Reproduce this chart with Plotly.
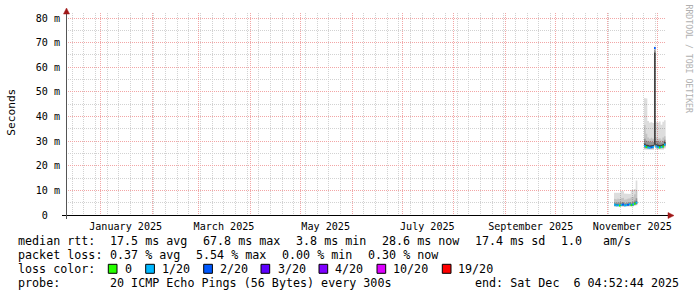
import plotly.graph_objects as go
from datetime import datetime, timedelta

# ---------------- data ----------------
first_day = datetime(2025, 11, 5)
n_days = 31
graph_start = datetime(2024, 12, 11, 4, 52, 44)
graph_end = datetime(2025, 12, 6, 4, 52, 44)

median_ms = [4.2, 3.9, 4.0, 3.8, 4.1, 4.3, 3.9, 4.0, 4.2, 4.4, 4.0, 4.3, 4.6, 5.0,
             None, None, None, None,
             28.0, 27.6, 27.4, 27.3, 27.5, 27.6, 67.8, 27.9, 27.5, 27.4, 27.6, 27.8, 28.6]
loss_pct = [0.3, 0.4, 0.2, 0.0, 0.3, 5.2, 0.4, 0.3, 5.3, 0.2, 0.0, 0.3, 0.0, 0.4,
            None, None, None, None,
            0.4, 0.0, 0.3, 0.3, 5.1, 0.2, 5.54, 0.3, 0.4, 0.0, 0.3, 0.0, 0.3]

# smoke bands (sorted ping pairs, outer -> inner), ms
smoke1_lo = [3.4, 3.3, 3.4, 3.3, 3.4, 3.5, 3.3, 3.4, 3.5, 3.6, 3.4, 3.5, 3.7, 4.0,
             None, None, None, None,
             26.5, 26.4, 26.3, 26.2, 26.4, 26.4, 27.6, 26.6, 26.4, 26.3, 26.4, 26.5, 27.0]
smoke1_hi = [9.0, 9.1, 9.3, 9.0, 9.8, 9.6, 8.7, 8.8, 8.6, 8.5, 10.2, 10.3, 10.6, 14.0,
             None, None, None, None,
             47.5, 47.3, 38.2, 37.5, 37.8, 37.4, 68.4, 37.8, 37.6, 38.0, 36.6, 37.9, 38.5]
smoke2_lo = [3.6, 3.5, 3.6, 3.5, 3.6, 3.7, 3.5, 3.6, 3.7, 3.8, 3.6, 3.7, 3.9, 4.2,
             None, None, None, None,
             26.9, 26.8, 26.7, 26.6, 26.8, 26.8, 28.0, 27.0, 26.8, 26.7, 26.8, 26.9, 27.4]
smoke2_hi = [6.6, 6.3, 6.7, 6.4, 6.8, 7.0, 6.2, 6.4, 6.6, 6.8, 7.2, 7.4, 8.4, 10.0,
             None, None, None, None,
             36.5, 33.0, 31.5, 31.0, 31.4, 31.0, 67.6, 31.5, 31.0, 31.2, 30.6, 31.5, 32.0]
smoke3_lo = [3.8, 3.6, 3.7, 3.6, 3.8, 3.9, 3.6, 3.8, 3.9, 4.0, 3.7, 3.9, 4.1, 4.4,
             None, None, None, None,
             27.3, 27.1, 27.0, 26.9, 27.1, 27.1, 28.2, 27.4, 27.1, 27.0, 27.2, 27.3, 27.9]
smoke3_hi = [5.0, 4.8, 5.0, 4.8, 5.1, 5.3, 4.8, 4.9, 5.1, 5.3, 5.0, 5.4, 5.9, 6.8,
             None, None, None, None,
             31.0, 30.2, 29.8, 29.6, 29.8, 29.6, 67.0, 29.9, 29.6, 29.7, 29.4, 29.9, 30.6]
smoke4_lo = [4.0, 3.7, 3.8, 3.7, 3.9, 4.1, 3.7, 3.9, 4.0, 4.2, 3.8, 4.1, 4.4, 4.7,
             None, None, None, None,
             27.7, 27.4, 27.2, 27.1, 27.3, 27.4, 28.5, 27.7, 27.3, 27.2, 27.4, 27.6, 28.3]
smoke4_hi = [4.5, 4.2, 4.3, 4.1, 4.4, 4.6, 4.2, 4.3, 4.5, 4.7, 4.3, 4.6, 5.0, 5.5,
             None, None, None, None,
             29.0, 28.6, 28.4, 28.2, 28.5, 28.5, 66.0, 28.8, 28.5, 28.4, 28.5, 28.8, 29.6]

month_grid = ["2025-01-01", "2025-02-01", "2025-03-01", "2025-04-01", "2025-05-01",
              "2025-06-01", "2025-07-01", "2025-08-01", "2025-09-01", "2025-10-01",
              "2025-11-01", "2025-12-01"]
label_dates = ["2025-01-16", "2025-03-16", "2025-05-16", "2025-07-16", "2025-09-16", "2025-11-16"]
label_text = ["January 2025", "March 2025", "May 2025", "July 2025", "September 2025", "November 2025"]
first_sunday = datetime(2024, 12, 15)

y_ticks = [0, 10, 20, 30, 40, 50, 60, 70, 80]
y_text = ["0\u00a0\u00a0", "10 m", "20 m", "30 m", "40 m", "50 m", "60 m", "70 m", "80 m"]

loss_labels = ["0", "1/20", "2/20", "3/20", "4/20", "10/20", "19/20"]
loss_colors = ["#26ff00", "#00b8ff", "#0059ff", "#5e00ff", "#7e00ff", "#dd00ff", "#ff0000"]
loss_limits = [0, 1, 2, 3, 9, 18, 20]   # pings lost (of 20) upper bound per class

rtt_items = ["median rtt:", "17.5 ms avg", "67.8 ms max", "3.8 ms min", "28.6 ms now", "17.4 ms sd", "1.0", "am/s"]
loss_items = ["packet loss:", "0.37 % avg", "5.54 % max", "0.00 % min", "0.30 % now"]
probe_text = "20 ICMP Echo Pings (56 Bytes) every 300s"
end_text = "end: Sat Dec \u00a06 04:52:44 2025"

# ---------------- geometry / style ----------------
W, H = 697, 297
ML, MR, MT, MB = 66, 31, 13, 82
PW = W - ML - MR
PH = H - MT - MB
MONO = "DejaVu Sans Mono"
Y_MAX = PH / 2.4625


def px(x):
    return (x - ML) / PW


def py(y):
    return (H - MB - y) / PH


STEP = timedelta(days=1)
day_start = [first_day + i * STEP for i in range(n_days)]


def runs(values):
    out, cur = [], []
    for i, v in enumerate(values):
        if v is None:
            if cur:
                out.append(cur)
                cur = []
        else:
            cur.append(i)
    if cur:
        out.append(cur)
    return out


def step_band(lo, hi):
    xs, ys = [], []
    for run in runs(lo):
        for i in run:
            xs += [day_start[i], day_start[i] + STEP]
            ys += [hi[i], hi[i]]
        for i in reversed(run):
            xs += [day_start[i] + STEP, day_start[i]]
            ys += [lo[i], lo[i]]
        xs.append(None)
        ys.append(None)
    return xs, ys


def loss_class(pct):
    lost = pct / 100 * 20
    if lost == 0:
        return 0
    for k in range(1, len(loss_limits)):
        if lost <= loss_limits[k]:
            return k
    return len(loss_limits) - 1


fig = go.Figure()

# smoke: translucent greys so that the grid shows through (rrdtool paints grid on top)
bands = [(smoke1_lo, smoke1_hi), (smoke2_lo, smoke2_hi), (smoke3_lo, smoke3_hi), (smoke4_lo, smoke4_hi)]
shades = [221, 196, 150, 70]
prev = 255
for (lo, hi), g in zip(bands, shades):
    a = 1 - g / prev
    prev = g
    xs, ys = step_band(lo, hi)
    fig.add_trace(go.Scatter(x=xs, y=ys, mode="lines", fill="toself",
                             fillcolor=f"rgba(0,0,0,{a:.3f})",
                             line=dict(width=0, color="rgba(0,0,0,0)"),
                             hoverinfo="skip", showlegend=False))

# median line coloured by loss
seg = {k: ([], []) for k in range(len(loss_colors))}
for i, m in enumerate(median_ms):
    if m is None:
        continue
    k = loss_class(loss_pct[i])
    seg[k][0].extend([day_start[i], day_start[i] + STEP, None])
    seg[k][1].extend([m, m, None])
for k, (xs, ys) in seg.items():
    if xs:
        fig.add_trace(go.Scatter(x=xs, y=ys, mode="lines",
                                 line=dict(color=loss_colors[k], width=2),
                                 hoverinfo="skip", showlegend=False))

# dummy trace carrying the label axis
fig.add_trace(go.Scatter(x=label_dates, y=[None] * len(label_dates), xaxis="x2", yaxis="y",
                         mode="markers", showlegend=False, hoverinfo="skip"))

sundays = []
d = first_sunday
while d < graph_end:
    sundays.append(d)
    d += timedelta(days=7)

DASH = "1px,1px"
MAJOR = "#f2a6a6"
MINOR = "#d2d2d2"
fig.update_layout(
    width=W, height=H, autosize=False,
    margin=dict(l=ML, r=MR, t=MT, b=MB, pad=0),
    paper_bgcolor="white", plot_bgcolor="white",
    showlegend=False,
    xaxis=dict(type="date", range=[graph_start, graph_end],
               tickmode="array", tickvals=month_grid, showticklabels=False,
               ticks="", showgrid=True, gridcolor=MAJOR, griddash=DASH, gridwidth=1,
               minor=dict(tickmode="array", tickvals=sundays, showgrid=True,
                          gridcolor=MINOR, griddash=DASH, gridwidth=1, ticks=""),
               zeroline=False, showline=False, fixedrange=True),
    xaxis2=dict(type="date", range=[graph_start, graph_end], overlaying="x", anchor="y",
                side="bottom", tickmode="array", tickvals=label_dates, ticktext=label_text,
                showgrid=False, ticks="", zeroline=False, showline=False,
                ticklabelstandoff=4,
                tickfont=dict(family=MONO, size=10.1, color="#000")),
    yaxis=dict(range=[0, Y_MAX], tickmode="array", tickvals=y_ticks, ticktext=y_text,
               showgrid=True, gridcolor=MAJOR, griddash=DASH, gridwidth=1,
               minor=dict(dtick=5, tick0=0, showgrid=True, gridcolor=MINOR,
                          griddash=DASH, gridwidth=1, ticks=""),
               ticks="", ticklabelstandoff=5, zeroline=False, showline=False,
               tickfont=dict(family=MONO, size=10.1, color="#000"), fixedrange=True),
)

shapes = []
# axes lines
shapes.append(dict(type="line", xref="paper", yref="paper", x0=px(62), x1=px(669),
                   y0=py(215.5), y1=py(215.5), line=dict(color="#000", width=1)))
shapes.append(dict(type="line", xref="paper", yref="paper", x0=px(66.5), x1=px(66.5),
                   y0=py(219), y1=py(13), line=dict(color="#555", width=1)))
ARROW = "#a01818"
shapes.append(dict(type="path", xref="paper", yref="paper",
                   path=f"M {px(668)},{py(212.5)} L {px(674)},{py(215.5)} L {px(668)},{py(218.5)} Z",
                   fillcolor=ARROW, line=dict(color=ARROW, width=0.5)))
shapes.append(dict(type="path", xref="paper", yref="paper",
                   path=f"M {px(63.5)},{py(14)} L {px(66.5)},{py(8)} L {px(69.5)},{py(14)} Z",
                   fillcolor=ARROW, line=dict(color=ARROW, width=0.5)))

annotations = []


def text_at(t, x, y, size=11.7, anchor="left", color="#000"):
    annotations.append(dict(text=t, xref="paper", yref="paper", x=px(x), y=py(y),
                            xanchor=anchor, yanchor="middle", showarrow=False,
                            font=dict(family=MONO, size=size, color=color)))


# legend line 1
rtt_x = [16, 107.6, 200.7, 293.7, 379.7, 472.8, 558.8, 601]
for t, x in zip(rtt_items, rtt_x):
    text_at(t, x, 241)
# legend line 2
loss_x = [16, 107.6, 193.6, 279.6, 365.6]
for t, x in zip(loss_items, loss_x):
    text_at(t, x, 255)
# legend line 3
text_at("loss color:", 16, 268.5)
box_x = [108.3, 145.7, 203.7, 261, 319, 377, 442.3]
lab_x = [122.8, 160.2, 217.8, 275.5, 333.2, 391.2, 456.2]
for lab, col, bx, lx in zip(loss_labels, loss_colors, box_x, lab_x):
    shapes.append(dict(type="rect", xref="paper", yref="paper",
                       x0=px(bx), x1=px(bx + 8.7), y0=py(273.3), y1=py(264.3),
                       fillcolor=col, line=dict(color="#000", width=1)))
    text_at(lab, lx, 268.5)
# legend line 4
text_at("probe:", 16, 283)
text_at(probe_text, 107.6, 283)
text_at(end_text, 681, 283, anchor="right")

# y-axis title and watermark
annotations.append(dict(text="Seconds", xref="paper", yref="paper", x=px(10.8), y=py(112),
                        xanchor="center", yanchor="middle", textangle=-90, showarrow=False,
                        font=dict(family=MONO, size=11.2, color="#000")))
annotations.append(dict(text="RRDTOOL / TOBI OETIKER", xref="paper", yref="paper",
                        x=px(688.5), y=py(59), xanchor="center", yanchor="middle",
                        textangle=90, showarrow=False,
                        font=dict(family=MONO, size=8.2, color="#b0b0b0")))

fig.update_layout(shapes=shapes, annotations=annotations)
fig.write_html("out.html")
